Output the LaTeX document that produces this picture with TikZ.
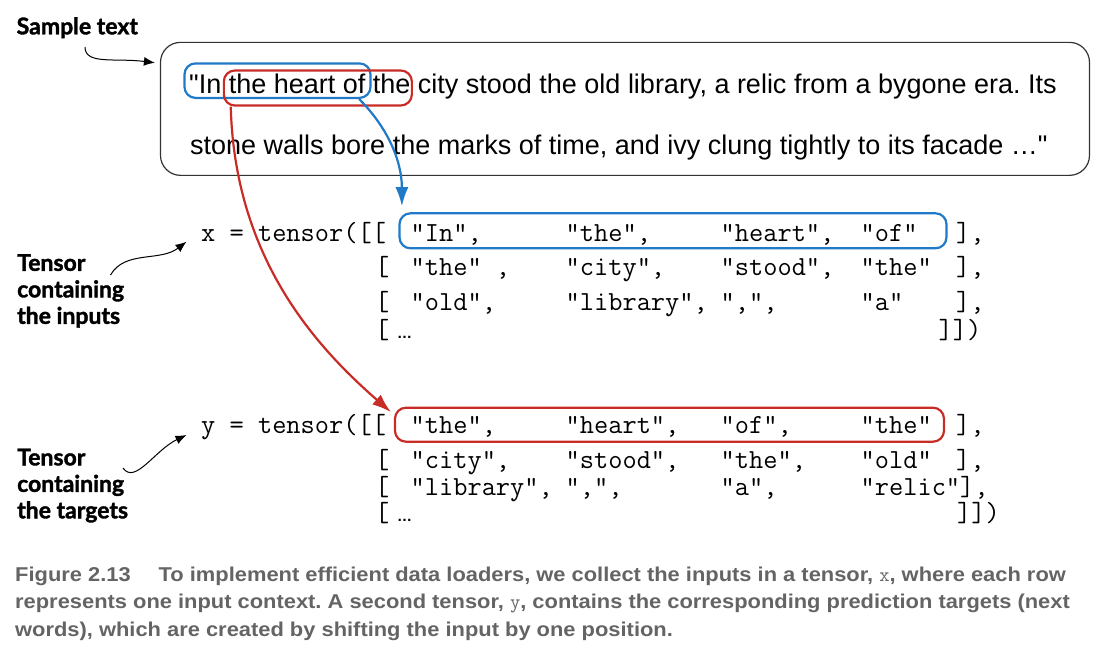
\documentclass[tikz,border=0pt]{standalone}
\usepackage{fontspec}
\setmainfont{Liberation Sans}
\newfontfamily\lblfont[BoldFeatures={FakeBold=1.6}]{Lato}
\newfontfamily\capfont[FakeStretch=1.094]{Liberation Sans}
\usepackage{tikz}
\usetikzlibrary{arrows.meta, positioning, calc}
\definecolor{ctxblue}{RGB}{33,122,199}
\definecolor{ctxred}{RGB}{200,44,38}
\definecolor{capgray}{RGB}{100,100,100}
\frenchspacing
\tikzset{
	txtline/.style={anchor=base west, inner sep=0pt, font=\fontsize{27}{30}\selectfont},
	tok/.style={anchor=base west, inner sep=0pt, font=\ttfamily\fontsize{27.6}{30}\selectfont},
	ellips/.style={anchor=base west, inner sep=0pt, font=\bfseries\fontsize{15}{15}\selectfont},
	lbl/.style={anchor=north west, inner sep=0pt, align=left,
		font=\lblfont\bfseries\fontsize{23}{26.5}\selectfont},
	captxt/.style={anchor=base west, inner sep=0pt, text=capgray,
		font=\capfont\bfseries\fontsize{20}{24}\selectfont},
	txtbox/.style={rectangle, rounded corners=20pt, draw=black!80, line width=1.2pt, inner sep=0pt},
	ctxbox/.style={rectangle, rounded corners=11pt, draw, line width=2.2pt, inner sep=0pt},
	lblarrow/.style={-{Latex[length=11pt,width=9pt]}, line width=1pt},
	ctxarrow/.style={-{Latex[length=19pt,width=13pt]}, line width=2.2pt},
}
\begin{document}
\begin{tikzpicture}[x=1pt, y=-1pt]
	\useasboundingbox (0,0) rectangle (1098,657);
	% Sample text
	\node[lbl, anchor=base west] (sampleLbl) at (16.5,34.3) {Sample text};
	\node[txtbox, minimum width=929pt, minimum height=133pt] (txtBox) at (625,108.85) {};
	\node[txtline] (line1) at (189,93.3) {\textquotedbl In the heart of the city stood the old library, a relic from a bygone era. Its};
	\node[txtline] (line2) at (190,154) {stone walls bore the marks of time, and ivy clung tightly to its facade …\textquotedbl};
	\node[ctxbox, draw=ctxblue, minimum width=186pt, minimum height=34.5pt] (inCtx) at (277.5,80.65) {};
	\node[ctxbox, draw=ctxred, minimum width=188pt, minimum height=35pt] (outCtx) at (317.85,88) {};
	\draw[lblarrow] ($(sampleLbl.base west)+(68.5,12.7)$) .. controls +(0,18) and +(-40,-5) .. ($(txtBox.north west)+(-5,21)$);
	% Inputs
	\node[lbl] (inLbl) at (17,254) {Tensor\\containing\\the inputs};
	\node[tok] (x0) at (201,241.7) {x = tensor([[};
	\node[tok] (x11) at (410.5,241.7) {"In",}; \node[tok] (x12) at (565.5,241.7) {"the",};
	\node[tok] (x13) at (720.5,241.7) {"heart",}; \node[tok] (x14) at (860.5,241.7) {"of"};
	\node[tok] (x15) at (956,241.7) {],};
	\node[tok] (x20) at (375,275) {[};
	\node[tok] (x21) at (410.5,275) {"the" ,}; \node[tok] (x22) at (565.5,275) {"city",};
	\node[tok] (x23) at (720.5,275) {"stood",}; \node[tok] (x24) at (860.5,275) {"the"};
	\node[tok] (x25) at (956,275) {],};
	\node[tok] (x30) at (375,310) {[};
	\node[tok] (x31) at (410.5,310) {"old",}; \node[tok] (x32) at (565.5,310) {"library",};
	\node[tok] (x33) at (720.5,310) {",",}; \node[tok] (x34) at (860.5,310) {"a"};
	\node[tok] (x35) at (956,310) {],};
	\node[tok] (x40) at (375,338.3) {[}; \node[ellips] (x41) at (397,338.3) {…};
	\node[tok] (x45) at (938.5,338.3) {]])};
	\node[ctxbox, draw=ctxblue, minimum width=547pt, minimum height=35pt] (xCtx) at (673,230.8) {};
	\draw[lblarrow] ($(inLbl.north west)+(93.5,21)$) .. controls +(14.5,-25) and +(-26.5,20.3) .. ($(x0.base west)+(-14.5,0)$);
	% Targets
	\node[lbl] (outLbl) at (17,448.5) {Tensor\\containing\\the targets};
	\node[tok] (y0) at (201,433.3) {y = tensor([[};
	\node[tok] (y11) at (410.5,433.3) {"the",}; \node[tok] (y12) at (565.5,433.3) {"heart",};
	\node[tok] (y13) at (720.5,433.3) {"of",}; \node[tok] (y14) at (860.5,433.3) {"the"};
	\node[tok] (y15) at (956,433.3) {],};
	\node[tok] (y20) at (375,468.3) {[};
	\node[tok] (y21) at (410.5,468.3) {"city",}; \node[tok] (y22) at (565.5,468.3) {"stood",};
	\node[tok] (y23) at (720.5,468.3) {"the",}; \node[tok] (y24) at (860.5,468.3) {"old"};
	\node[tok] (y25) at (956,468.3) {],};
	\node[tok] (y30) at (375,495.5) {[};
	\node[tok] (y31) at (410.5,495.5) {"library",}; \node[tok] (y32) at (565.5,495.5) {",",};
	\node[tok] (y33) at (720.5,495.5) {"a",}; \node[tok] (y34) at (860.5,495.5) {"relic"],};
	\node[tok] (y40) at (375,521.7) {[}; \node[ellips] (y41) at (397,521.7) {…};
	\node[tok] (y45) at (957,521.7) {]])};
	\node[ctxbox, draw=ctxred, minimum width=549pt, minimum height=34pt] (yCtx) at (669.5,424.7) {};
	\draw[lblarrow] ($(outLbl.north west)+(106,19.5)$) .. controls +(12,17) and +(-31.5,15) .. ($(y0.base west)+(-14.5,1.7)$);
	% shift arrows
	\draw[ctxarrow, ctxblue] ($(inCtx.south east)+(-12.5,0)$) .. controls +(27,27) and +(0,-47) .. ($(xCtx.north west)+(3.5,-6)$);
	\draw[ctxarrow, ctxred] ($(outCtx.south west)+(8,0)$) .. controls +(4,154) and +(-72,-63) .. ($(yCtx.north west)+(-3,5.5)$);
	% Caption
	\node[captxt] (cap1) at (15,581) {Figure 2.13\hspace{28pt}To implement efficient data loaders, we collect the inputs in a tensor, {\ttfamily\mdseries x}, where each row};
	\node[captxt] (cap2) at (15,608.5) {represents one input context. A second tensor, {\ttfamily\mdseries y}, contains the corresponding prediction targets (next};
	\node[captxt] (cap3) at (15,636) {words), which are created by shifting the input by one position.};
\end{tikzpicture}
\end{document}
